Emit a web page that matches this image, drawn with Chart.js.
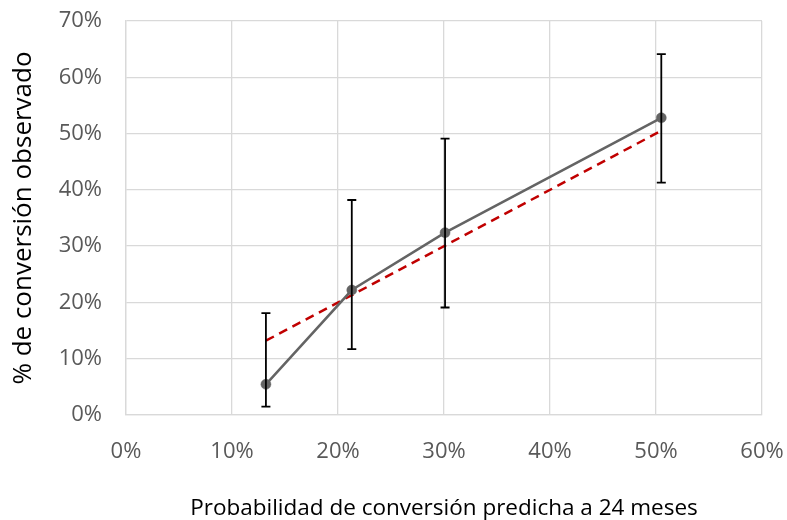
<!DOCTYPE html>
<html>
<head>
<meta charset="utf-8">
<script src="https://cdn.jsdelivr.net/npm/chart.js@4.4.1/dist/chart.umd.min.js"></script>
<style>
    html, body { margin: 0; padding: 0; background: #fff; }
    #wrap { width: 787px; height: 520px; }
</style>
</head>
<body>
<div id="wrap"><canvas id="calibracion"></canvas></div>
<script>
// Probabilidad predicha (eje x) y conversión observada (eje y), en %
const predicha = [13.2, 21.3, 30.1, 50.5];
const observada = [5.45, 22.2, 32.4, 52.8];
// Intervalos de confianza
const limInferior = [1.5, 11.7, 19.1, 41.3];
const limSuperior = [18.1, 38.2, 49.1, 64.1];
// Línea de calibración perfecta (y = x)
const diagonal = [13.2, 50.2];

const fuente = "'Open Sans', 'Liberation Sans', sans-serif";

// Dibuja las barras de error sobre la serie observada
const barrasError = {
    id: 'barrasError',
    afterDatasetsDraw(chart) {
        const ctx = chart.ctx;
        const x = chart.scales.x, y = chart.scales.y;
        ctx.save();
        ctx.strokeStyle = '#000';
        ctx.lineWidth = 1.8;
        predicha.forEach((p, i) => {
            const px = x.getPixelForValue(p);
            const y0 = y.getPixelForValue(limInferior[i]);
            const y1 = y.getPixelForValue(limSuperior[i]);
            ctx.beginPath();
            ctx.moveTo(px, y0); ctx.lineTo(px, y1);
            ctx.moveTo(px - 4.5, y0); ctx.lineTo(px + 4.5, y0);
            ctx.moveTo(px - 4.5, y1); ctx.lineTo(px + 4.5, y1);
            ctx.stroke();
        });
        ctx.restore();
    }
};

new Chart(document.getElementById('calibracion'), {
    type: 'scatter',
    data: {
        datasets: [{
            label: 'Diagonal',
            data: diagonal.map(v => ({ x: v, y: v })),
            showLine: true,
            borderColor: '#C00000',
            borderWidth: 2.5,
            borderDash: [9, 6],
            pointRadius: 0,
            order: 2
        }, {
            label: 'Observado',
            data: predicha.map((p, i) => ({ x: p, y: observada[i] })),
            showLine: true,
            borderColor: '#646464',
            borderWidth: 2.5,
            pointRadius: 5,
            pointBorderWidth: 0.5,
            pointBackgroundColor: '#646464',
            pointBorderColor: '#646464',
            order: 1
        }]
    },
    options: {
        responsive: true,
        maintainAspectRatio: false,
        animation: false,
        layout: { padding: { top: 21, right: 25, left: 0, bottom: 0 } },
        plugins: {
            legend: { display: false },
            tooltip: { enabled: false }
        },
        scales: {
            x: {
                type: 'linear',
                min: 0, max: 60,
                // alto fijo y sin reserva extra para las etiquetas de los extremos
                afterFit(axis) {
                    axis.height = 105;
                    axis.paddingLeft = 0;
                    axis.paddingRight = 0;
                },
                grid: { color: '#d9d9d9', lineWidth: 1.3, drawTicks: false },
                border: { color: '#d9d9d9', width: 1.3 },
                ticks: {
                    stepSize: 10,
                    padding: 24,
                    color: '#595959',
                    font: { family: fuente, size: 22 },
                    callback: v => v + '%'
                },
                title: {
                    display: true,
                    text: 'Probabilidad de conversión predicha a 24 meses',
                    color: '#000',
                    font: { family: fuente, size: 22.5, lineHeight: 1 },
                    padding: { top: 30, bottom: 0 }
                }
            },
            y: {
                type: 'linear',
                min: 0, max: 70,
                afterFit(axis) {
                    axis.width = 126;
                    axis.paddingTop = 0;
                    axis.paddingBottom = 0;
                },
                grid: { color: '#d9d9d9', lineWidth: 1.3, drawTicks: false },
                border: { color: '#d9d9d9', width: 1.3 },
                ticks: {
                    stepSize: 10,
                    padding: 24,
                    color: '#595959',
                    font: { family: fuente, size: 22 },
                    callback: v => v + '%'
                },
                title: {
                    display: true,
                    text: '% de conversión observado',
                    color: '#000',
                    font: { family: fuente, size: 26 },
                    padding: { top: 8, bottom: 0 }
                }
            }
        }
    },
    plugins: [barrasError]
});
</script>
</body>
</html>
